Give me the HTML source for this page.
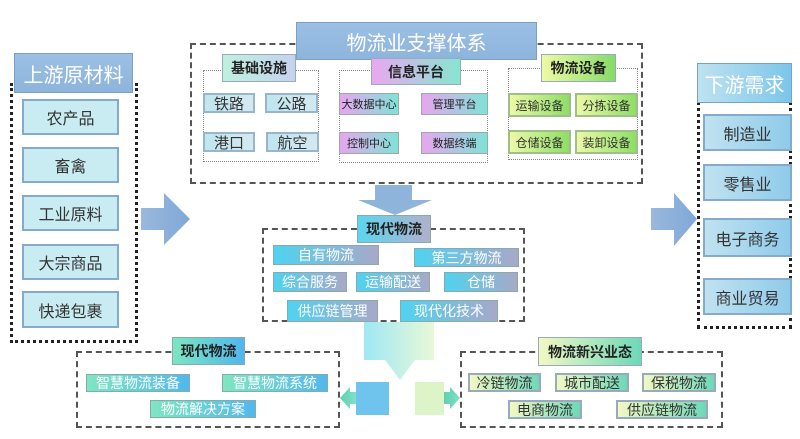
<!DOCTYPE html>
<html><head><meta charset="utf-8"><style>
body{margin:0;width:800px;height:439px;background:#fff;position:relative;overflow:hidden;font-family:"Liberation Sans","Noto Sans CJK SC",sans-serif}
div{position:absolute;box-sizing:border-box}
.t{display:flex;align-items:center;justify-content:center;white-space:nowrap}
.dash{border:2px dashed #555}
.dot{border:1px dotted #888}
.dotb{border:3px dotted #222}
.hdr{background:linear-gradient(#9cc0e4,#8db4dc);border:1px solid #7a9fc8;color:#fff;font-size:20px}
.up{background:#c8ecf2;border:2px solid #86aacb;color:#333;font-size:16px}
.dn{background:linear-gradient(90deg,#c0e2f0,#8fcbea);border:2px solid #86aacb;color:#333;font-size:16px}
.inf{background:linear-gradient(90deg,#bfe6ee,#d4e8f0);border:2px solid #97b6cc;color:#333;font-size:15px}
.info{background:linear-gradient(90deg,#e7a6ee,#7fe2d6);border:1px solid #9aa;color:#222;font-size:11px}
.eq{background:linear-gradient(90deg,#ecf8a8,#8ede66);border:2px solid #9fbf8a;color:#333;font-size:12px}
.mod{background:linear-gradient(90deg,#4fd3f0,#a8a8c8);border:1px solid #8aa;color:#fff;font-size:14px}
.sm{background:linear-gradient(90deg,#7ee6c0,#52b8ee);border:1px solid #8aa;color:#fff;font-size:14px}
.nw{background:linear-gradient(90deg,#f2f8c4,#6ed8b8);border:2px solid #9ab;color:#333;font-size:14px}
.lab{font-size:14px;font-weight:bold;color:#222}
</style></head><body>

<div class="dash" style="left:190px;top:43px;width:453px;height:141px"></div>
<div class="t hdr" style="left:296px;top:22px;width:241px;height:38px">物流业支撑体系</div>

<div class="dot" style="left:203px;top:70px;width:116px;height:92px"></div>
<div class="t lab" style="left:222px;top:54px;width:74px;height:28px;background:linear-gradient(90deg,#bff0df,#c6d2ee);border:1px solid #9ab">基础设施</div>
<div class="t inf" style="left:203px;top:93px;width:52px;height:20px">铁路</div>
<div class="t inf" style="left:265px;top:93px;width:53px;height:20px">公路</div>
<div class="t inf" style="left:203px;top:132px;width:52px;height:20px">港口</div>
<div class="t inf" style="left:266px;top:132px;width:53px;height:20px">航空</div>

<div class="dot" style="left:339px;top:70px;width:149px;height:93px"></div>
<div class="t lab" style="left:371px;top:58px;width:90px;height:27px;background:linear-gradient(90deg,#eaa8f0,#86e6d0);border:1px solid #9ab">信息平台</div>
<div class="t info" style="left:339px;top:93px;width:60px;height:22px">大数据中心</div>
<div class="t info" style="left:421px;top:93px;width:67px;height:22px">管理平台</div>
<div class="t info" style="left:339px;top:132px;width:60px;height:22px">控制中心</div>
<div class="t info" style="left:421px;top:132px;width:67px;height:22px">数据终端</div>

<div class="dot" style="left:508px;top:68px;width:130px;height:92px"></div>
<div class="t lab" style="left:541px;top:54px;width:75px;height:28px;background:linear-gradient(90deg,#eefaa6,#86dc66);border:1px solid #9ab">物流设备</div>
<div class="t eq" style="left:508px;top:93px;width:63px;height:24px">运输设备</div>
<div class="t eq" style="left:575px;top:93px;width:63px;height:24px">分拣设备</div>
<div class="t eq" style="left:508px;top:130px;width:63px;height:24px">仓储设备</div>
<div class="t eq" style="left:575px;top:130px;width:63px;height:24px">装卸设备</div>

<div class="dotb" style="left:10px;top:83px;width:128px;height:260px"></div>
<div class="t hdr" style="left:14px;top:53px;width:119px;height:40px">上游原材料</div>
<div class="t up" style="left:22px;top:99px;width:97px;height:36px">农产品</div>
<div class="t up" style="left:22px;top:147px;width:97px;height:36px">畜禽</div>
<div class="t up" style="left:22px;top:195px;width:97px;height:36px">工业原料</div>
<div class="t up" style="left:22px;top:244px;width:97px;height:36px">大宗商品</div>
<div class="t up" style="left:22px;top:291px;width:97px;height:37px">快递包裹</div>

<div class="dotb" style="left:697px;top:83px;width:95px;height:246px"></div>
<div class="t hdr" style="left:697px;top:63px;width:95px;height:40px;background:linear-gradient(90deg,#bfe2f0,#7cc6ea)">下游需求</div>
<div class="t dn" style="left:703px;top:114px;width:89px;height:37px">制造业</div>
<div class="t dn" style="left:703px;top:164px;width:89px;height:37px">零售业</div>
<div class="t dn" style="left:703px;top:218px;width:89px;height:39px">电子商务</div>
<div class="t dn" style="left:703px;top:278px;width:89px;height:37px">商业贸易</div>

<svg style="position:absolute;left:0;top:0" width="800" height="439">
<defs>
<linearGradient id="ga" x1="0" x2="1"><stop offset="0" stop-color="#9ab8dc"/><stop offset="1" stop-color="#7fa8d8"/></linearGradient>
<linearGradient id="gb" x1="0" x2="1"><stop offset="0" stop-color="#9ee8f4"/><stop offset="1" stop-color="#e8f8d8"/></linearGradient>
<linearGradient id="gc" x1="0" x2="1"><stop offset="0" stop-color="#60d0b0"/><stop offset="1" stop-color="#80e0c8"/></linearGradient>
</defs>
<polygon points="141,208 164,208 164,193 190,219 164,245 164,230 141,230" fill="url(#ga)"/>
<polygon points="651,208 674,208 674,193 697,219 674,246 674,230 651,230" fill="url(#ga)"/>
<polygon points="375,185 412,185 412,200 432,200 395,215 358,200 375,200" fill="#8fb4dc"/>
<polygon points="364,322 434,322 434,360 415,360 400,380 385,360 364,360" fill="url(#gb)"/>
<rect x="356" y="382" width="33" height="33" fill="#6ec4ec"/>
<rect x="415" y="382" width="29" height="33" fill="#dcf4c8"/>
<polygon points="356,392 350,392 350,387 340,398 350,409 350,404 356,404" fill="url(#gc)"/>
<polygon points="444,392 450,392 450,387 460,398 450,409 450,404 444,404" fill="url(#gc)"/>
</svg>

<div class="dash" style="left:262px;top:228px;width:263px;height:94px"></div>
<div class="t lab" style="left:357px;top:215px;width:74px;height:28px;background:linear-gradient(90deg,#5cd6f0,#b0b0cc);border:1px solid #8aa">现代物流</div>
<div class="t mod" style="left:273px;top:245px;width:106px;height:20px">自有物流</div>
<div class="t mod" style="left:414px;top:248px;width:105px;height:19px">第三方物流</div>
<div class="t mod" style="left:273px;top:272px;width:74px;height:20px">综合服务</div>
<div class="t mod" style="left:356px;top:272px;width:74px;height:20px">运输配送</div>
<div class="t mod" style="left:444px;top:272px;width:74px;height:20px">仓储</div>
<div class="t mod" style="left:287px;top:300px;width:91px;height:22px">供应链管理</div>
<div class="t mod" style="left:400px;top:300px;width:98px;height:22px">现代化技术</div>

<div class="dash" style="left:76px;top:351px;width:264px;height:77px"></div>
<div class="t lab" style="left:172px;top:337px;width:73px;height:28px;background:linear-gradient(90deg,#7ce6c0,#50b6ee);border:1px solid #8aa">现代物流</div>
<div class="t sm" style="left:86px;top:374px;width:104px;height:18px">智慧物流装备</div>
<div class="t sm" style="left:222px;top:374px;width:106px;height:18px">智慧物流系统</div>
<div class="t sm" style="left:150px;top:400px;width:106px;height:18px">物流解决方案</div>

<div class="dash" style="left:460px;top:351px;width:263px;height:77px"></div>
<div class="t lab" style="left:538px;top:337px;width:104px;height:29px;background:linear-gradient(90deg,#f2f8c4,#6ed8b8);border:1px solid #9ab">物流新兴业态</div>
<div class="t nw" style="left:468px;top:373px;width:73px;height:19px">冷链物流</div>
<div class="t nw" style="left:555px;top:373px;width:74px;height:19px">城市配送</div>
<div class="t nw" style="left:642px;top:373px;width:74px;height:19px">保税物流</div>
<div class="t nw" style="left:508px;top:400px;width:74px;height:19px">电商物流</div>
<div class="t nw" style="left:616px;top:400px;width:92px;height:19px">供应链物流</div>
</body></html>
